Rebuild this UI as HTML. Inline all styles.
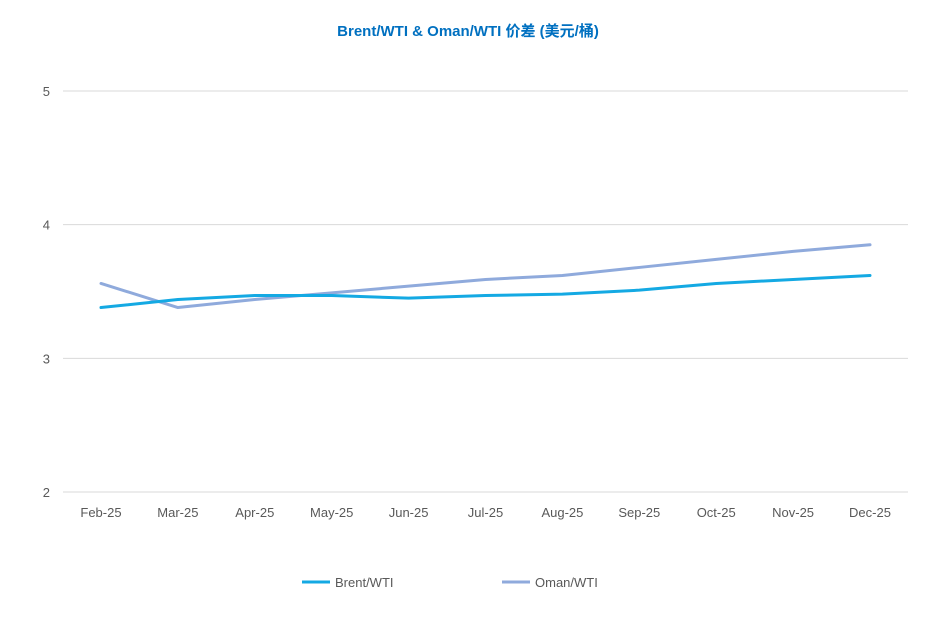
<!DOCTYPE html>
<html><head><meta charset="utf-8"><style>
body{margin:0;background:#fff;}
svg{display:block;font-family:"Liberation Sans","Noto Sans CJK SC",sans-serif;}
</style></head><body>
<svg id="chart" width="937" height="634">
<text x="468" y="36" text-anchor="middle" font-size="15" font-weight="bold" fill="#0070c0">Brent/WTI &amp; Oman/WTI 价差 (美元/桶)</text>
<g id="grid"></g><g id="xl"></g><g id="lines"></g>
<g>
<line x1="302" y1="582" x2="330" y2="582" stroke="#14a9e3" stroke-width="3"/>
<text x="335" y="587" font-size="13" fill="#595959">Brent/WTI</text>
<line x1="502" y1="582" x2="530" y2="582" stroke="#8faadc" stroke-width="3"/>
<text x="535" y="587" font-size="13" fill="#595959">Oman/WTI</text>
</g>
</svg>
<script>
const categories=["Feb-25","Mar-25","Apr-25","May-25","Jun-25","Jul-25","Aug-25","Sep-25","Oct-25","Nov-25","Dec-25"];
const brent=[3.38,3.44,3.47,3.47,3.45,3.47,3.48,3.51,3.56,3.59,3.62];
const oman=[3.56,3.38,3.44,3.49,3.54,3.59,3.62,3.68,3.74,3.80,3.85];
const yTicks=[2,3,4,5];
const ns="http://www.w3.org/2000/svg";
const x0=101,x1=870,yMin=2,yMax=5,py0=492,py1=91;
const X=i=>x0+i*(x1-x0)/(categories.length-1);
const Y=v=>py0-(v-yMin)/(yMax-yMin)*(py0-py1);
const grid=document.getElementById('grid');
yTicks.forEach(t=>{
 const l=document.createElementNS(ns,'line');
 l.setAttribute('x1',63);l.setAttribute('x2',908);l.setAttribute('y1',Y(t));l.setAttribute('y2',Y(t));
 l.setAttribute('stroke','#d9d9d9');l.setAttribute('stroke-width','1');
 
 
 grid.appendChild(l);
 const tx=document.createElementNS(ns,'text');
 tx.setAttribute('x',50);tx.setAttribute('y',Y(t)+5);tx.setAttribute('text-anchor','end');
 tx.setAttribute('font-size','13');tx.setAttribute('fill','#595959');tx.textContent=t;
 
 
 grid.appendChild(tx);
});
const xl=document.getElementById('xl');
categories.forEach((c,i)=>{
 const tx=document.createElementNS(ns,'text');
 tx.setAttribute('x',X(i));tx.setAttribute('y',517);tx.setAttribute('text-anchor','middle');
 tx.setAttribute('font-size','13');tx.setAttribute('fill','#595959');tx.textContent=c;
 
 
 xl.appendChild(tx);
});
const lines=document.getElementById('lines');
[[oman,'#8faadc','oman-wti-line'],[brent,'#14a9e3','brent-wti-line']].forEach(([s,c,n])=>{
 const p=document.createElementNS(ns,'polyline');
 p.setAttribute('points',s.map((v,i)=>X(i)+','+Y(v)).join(' '));
 p.setAttribute('fill','none');p.setAttribute('stroke',c);p.setAttribute('stroke-width','3');
 p.setAttribute('stroke-linejoin','round');p.setAttribute('stroke-linecap','round');
 
 
 lines.appendChild(p);
});
</script>
</body></html>
